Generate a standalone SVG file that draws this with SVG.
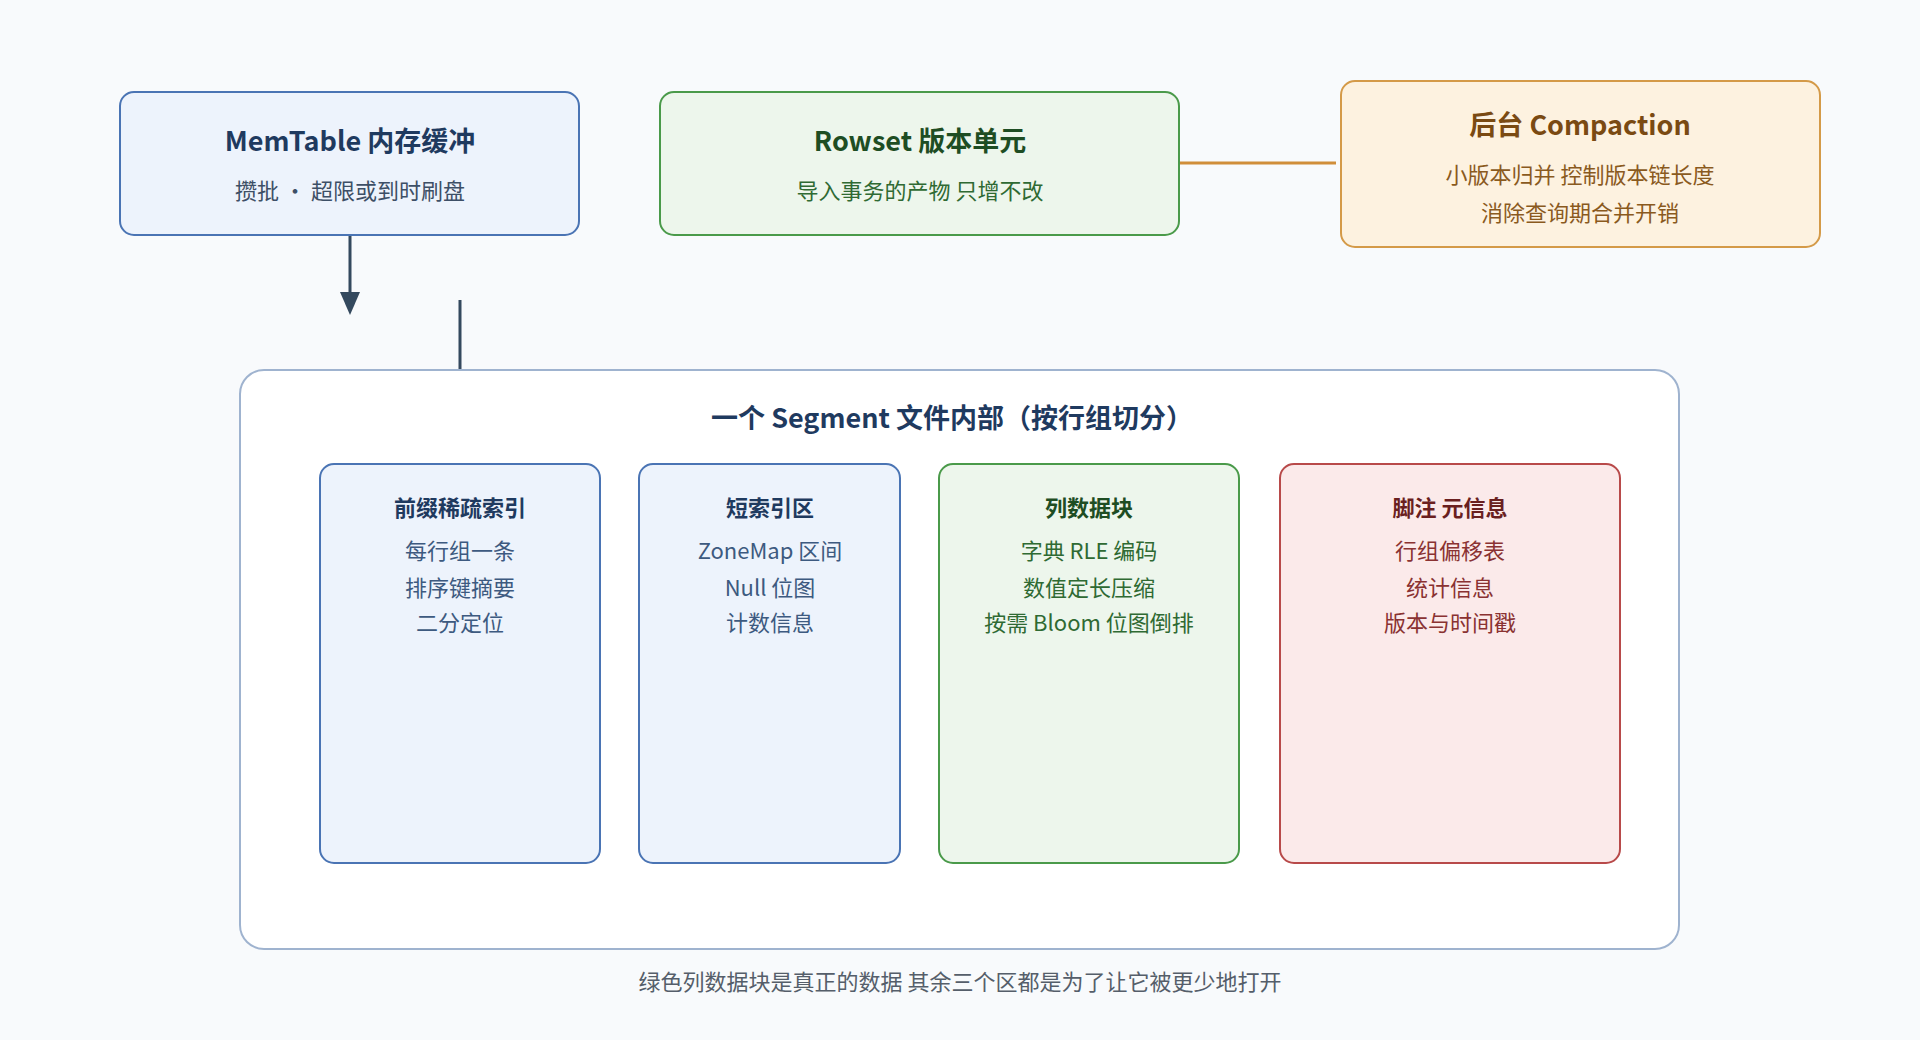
<svg xmlns="http://www.w3.org/2000/svg" width="1920" height="1040" viewBox="0 0 1920 1040">
<defs>
<style>
text{font-family:"Noto Sans CJK SC","Noto Sans",sans-serif;text-anchor:middle}
.t{font-size:27px;font-weight:bold}
.s{font-size:22px}
.blue{fill:#edf3fc;stroke:#4a74b4;stroke-width:2}
.green{fill:#edf6ec;stroke:#4a9a4a;stroke-width:2}
.orange{fill:#fdf2e0;stroke:#d49a48;stroke-width:2}
.red{fill:#fbeaea;stroke:#b84a4a;stroke-width:2}
</style>
<marker id="ah" markerWidth="10" markerHeight="10" refX="5" refY="9" orient="auto" markerUnits="userSpaceOnUse" viewBox="0 0 10 10"><path d="M0,0 L10,0 L5,10 z" fill="#34495e"/></marker>
</defs>
<rect width="1920" height="1040" fill="#f8fafc"/>
<g id="connectors">
<line x1="1179" y1="163" x2="1336" y2="163" stroke="#d08e3a" stroke-width="3"/>
<line x1="350" y1="235" x2="350" y2="300" stroke="#34495e" stroke-width="3"/>
<path d="M340,292 L360,292 L350,315 z" fill="#34495e"/>
<line x1="460" y1="300" x2="460" y2="459" stroke="#34495e" stroke-width="3"/>
</g>
<g id="memtable">
<rect x="120" y="92" width="459" height="143" rx="14" class="blue"/>
<text x="350" y="151" class="t" fill="#1f3a5f">MemTable 内存缓冲</text>
<text x="350" y="199" class="s" fill="#3d4f66">攒批 · 超限或到时刷盘</text>
</g>
<g id="rowset">
<rect x="660" y="92" width="519" height="143" rx="14" class="green"/>
<text x="920" y="151" class="t" fill="#1e4d23">Rowset 版本单元</text>
<text x="920" y="199" class="s" fill="#2f6a33">导入事务的产物 只增不改</text>
</g>
<g id="compaction">
<rect x="1341" y="81" width="479" height="166" rx="14" class="orange"/>
<text x="1580" y="135" class="t" fill="#7a4a12">后台 Compaction</text>
<text x="1580" y="183" class="s" fill="#8a5a1e">小版本归并 控制版本链长度</text>
<text x="1580" y="221" class="s" fill="#8a5a1e">消除查询期合并开销</text>
</g>
<g id="segment">
<rect x="240" y="370" width="1439" height="579" rx="24" fill="#ffffff" stroke="#9fb3cf" stroke-width="2"/>
<text x="952" y="428" class="t" fill="#1f3a5f">一个 Segment 文件内部（按行组切分）</text>
</g>
<g id="prefix">
<rect x="320" y="464" width="280" height="399" rx="14" class="blue"/>
<text x="460" y="516" class="s" font-weight="bold" fill="#1f3a5f">前缀稀疏索引</text>
<text x="460" y="559" class="s" fill="#3d5a80">每行组一条</text>
<text x="460" y="596" class="s" fill="#3d5a80">排序键摘要</text>
<text x="460" y="631" class="s" fill="#3d5a80">二分定位</text>
</g>
<g id="shortindex">
<rect x="639" y="464" width="261" height="399" rx="14" class="blue"/>
<text x="770" y="516" class="s" font-weight="bold" fill="#1f3a5f">短索引区</text>
<text x="770" y="559" class="s" fill="#3d5a80">ZoneMap 区间</text>
<text x="770" y="596" class="s" fill="#3d5a80">Null 位图</text>
<text x="770" y="631" class="s" fill="#3d5a80">计数信息</text>
</g>
<g id="columndata">
<rect x="939" y="464" width="300" height="399" rx="14" class="green"/>
<text x="1089" y="516" class="s" font-weight="bold" fill="#1e4d23">列数据块</text>
<text x="1089" y="559" class="s" fill="#2f6a33">字典 RLE 编码</text>
<text x="1089" y="596" class="s" fill="#2f6a33">数值定长压缩</text>
<text x="1089" y="631" class="s" fill="#2f6a33">按需 Bloom 位图倒排</text>
</g>
<g id="footer">
<rect x="1280" y="464" width="340" height="399" rx="14" class="red"/>
<text x="1450" y="516" class="s" font-weight="bold" fill="#6a1f1f">脚注 元信息</text>
<text x="1450" y="559" class="s" fill="#8a3232">行组偏移表</text>
<text x="1450" y="596" class="s" fill="#8a3232">统计信息</text>
<text x="1450" y="631" class="s" fill="#8a3232">版本与时间戳</text>
</g>
<text x="960" y="990" class="s" fill="#555e6a">绿色列数据块是真正的数据 其余三个区都是为了让它被更少地打开</text>
</svg>
